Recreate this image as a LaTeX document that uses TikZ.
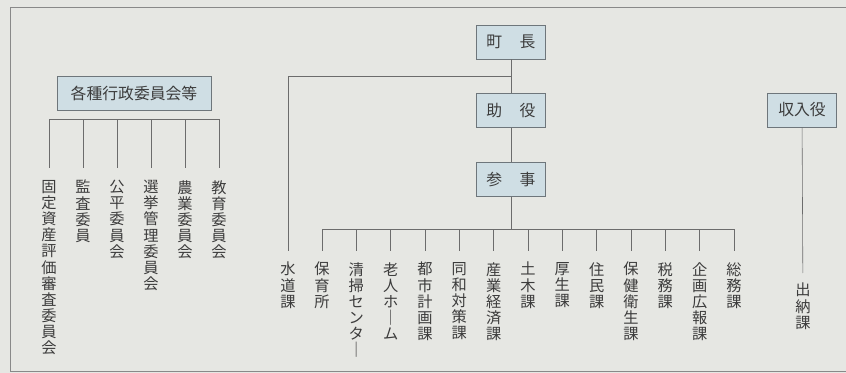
\documentclass[tikz,border=0pt]{standalone}
\usepackage{fontspec}
\usepackage{tikz}
\usetikzlibrary{positioning}
\newfontfamily\jpfont{Noto Sans CJK JP}
\definecolor{paper}{HTML}{E6E7E3}
\definecolor{boxfill}{HTML}{CFDEE4}
\definecolor{boxline}{HTML}{6E767B}
\definecolor{ink}{HTML}{3C3C3C}
\definecolor{wire}{HTML}{6C6C6C}

\begin{document}
\begin{tikzpicture}[
  x=0.03cm, y=-0.03cm,
  node distance=1.02cm,
  headbox/.style={
    rectangle, draw=boxline, fill=boxfill, line width=0.6pt,
    minimum height=1.02cm, minimum width=2.07cm,
    text=ink, font=\jpfont\fontsize{13.5}{15}\selectfont
  },
  dept/.style={
    anchor=north, inner sep=0pt, align=center, text=ink,
    font=\jpfont\fontsize{13}{13.8}\selectfont
  },
  link/.style={draw=wire, line width=0.5pt},
  drop/.style={link, shorten >=0.33cm},
  frame/.style={draw=wire!80, line width=0.6pt},
]
\useasboundingbox (0,0) rectangle (846,373);
\fill[paper] (0,0) rectangle (846,373);
\draw[frame] (846,7) -- (10,7) -- (10,371.5) -- (846,371.5);

% ---- Head column ----
\node[headbox] (mayor) at (511,42) {町\hspace{1.1em}長};
\node[headbox, below=of mayor] (deputy) {助\hspace{1.1em}役};
\node[headbox, below=of deputy] (counsellor) {参\hspace{1.1em}事};
\node[headbox] (treasurer) at (802,110) {収入役};
\node[headbox, minimum width=4.62cm] (boards) at (134,93) {各種行政委員会等};

% Arrows (head column)
\draw[link] (mayor) -- (deputy);
\draw[link] (deputy) -- (counsellor);
\coordinate[below=0.51cm of mayor.south] (split);
\coordinate[below=0.99cm of counsellor.south] (bar);
\coordinate[below=0.27cm of boards.south] (cbar);

% ---- Departments ----
\node[dept] (water) at (288,262) {水\\道\\課};
\node[dept] (nursery) at (322,262) {保\\育\\所};
\node[dept] (cleaning) at (356.3,262) {清\\掃\\セ\\ン\\タ\\｜};
\node[dept] (elderly) at (390.7,262) {老\\人\\ホ\\｜\\ム};
\node[dept] (urban) at (425,262) {都\\市\\計\\画\\課};
\node[dept] (dowa) at (459.3,262) {同\\和\\対\\策\\課};
\node[dept] (industry) at (493.7,262) {産\\業\\経\\済\\課};
\node[dept] (civil) at (528,262) {土\\木\\課};
\node[dept] (welfare) at (562.3,262) {厚\\生\\課};
\node[dept] (resident) at (596.7,262) {住\\民\\課};
\node[dept] (health) at (631,262) {保\\健\\衛\\生\\課};
\node[dept] (tax) at (665.3,262) {税\\務\\課};
\node[dept] (planning) at (699.7,262) {企\\画\\広\\報\\課};
\node[dept] (general) at (734,262) {総\\務\\課};
\node[dept] (cashier) at (803,283) {出\\納\\課};

% ---- Committees ----
\node[dept] (assess) at (49,180) {固\\定\\資\\産\\評\\価\\審\\査\\委\\員\\会};
\node[dept] (audit) at (83,180) {監\\査\\委\\員};
\node[dept] (equity) at (117,180) {公\\平\\委\\員\\会};
\node[dept] (election) at (151,180) {選\\挙\\管\\理\\委\\員\\会};
\node[dept] (farm) at (185,180) {農\\業\\委\\員\\会};
\node[dept] (school) at (219,180) {教\\育\\委\\員\\会};

% Connectors
\draw[drop] (split) -| (water);
\draw[link] (counsellor) -- (bar);
\draw[drop] (bar) -| (nursery);
\draw[drop] (bar) -| (cleaning);
\draw[drop] (bar) -| (elderly);
\draw[drop] (bar) -| (urban);
\draw[drop] (bar) -| (dowa);
\draw[drop] (bar) -| (industry);
\draw[drop] (bar) -| (civil);
\draw[drop] (bar) -| (welfare);
\draw[drop] (bar) -| (resident);
\draw[drop] (bar) -| (health);
\draw[drop] (bar) -| (tax);
\draw[drop] (bar) -| (planning);
\draw[drop] (bar) -| (general);
\draw[drop, shorten >=0.3cm] (treasurer) -- (cashier);
\draw[drop, shorten >=0.36cm] (cbar) -| (assess);
\draw[drop, shorten >=0.36cm] (cbar) -| (audit);
\draw[drop, shorten >=0.36cm] (cbar) -| (equity);
\draw[drop, shorten >=0.36cm] (cbar) -| (election);
\draw[drop, shorten >=0.36cm] (cbar) -| (farm);
\draw[drop, shorten >=0.36cm] (cbar) -| (school);

\end{tikzpicture}
\end{document}
